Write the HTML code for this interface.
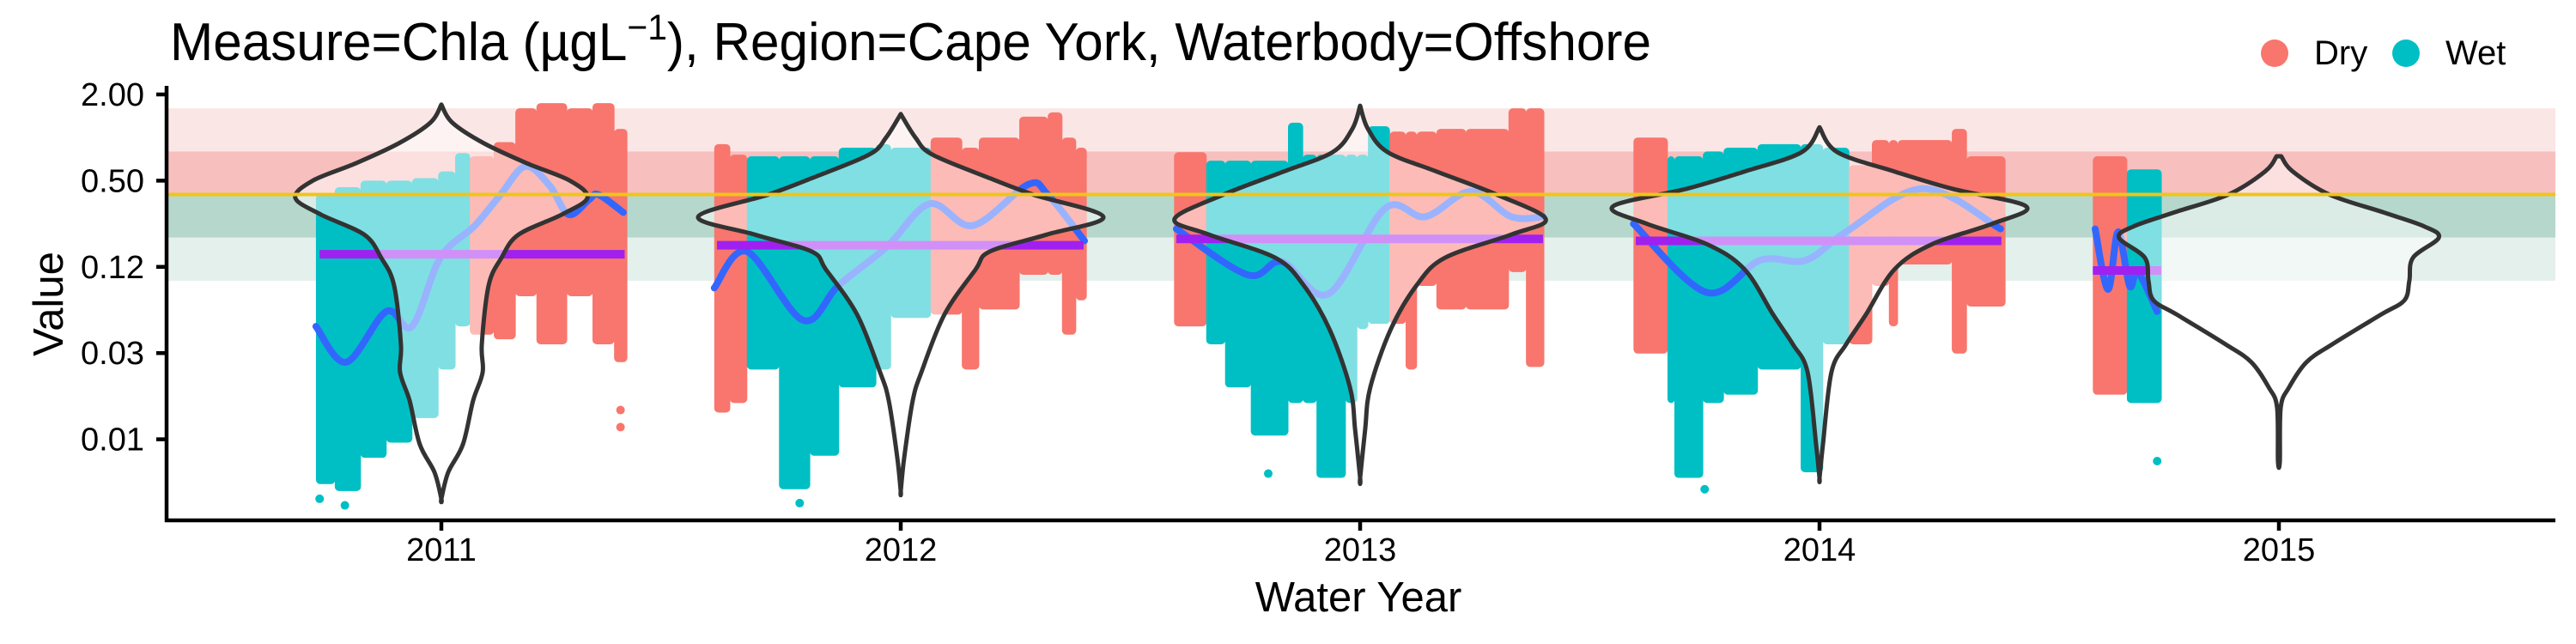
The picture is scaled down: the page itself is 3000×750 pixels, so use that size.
<!DOCTYPE html>
<html><head><meta charset="utf-8"><title>Chla Cape York Offshore</title>
<style>html,body{margin:0;padding:0;background:#fff;}svg{display:block;font-family:"Liberation Sans",sans-serif;}</style>
</head><body>
<svg id="chart" xmlns="http://www.w3.org/2000/svg" width="3000" height="750" viewBox="0 0 3000 750">
<text x="198" y="70" font-size="62" fill="#000" textLength="1725" lengthAdjust="spacingAndGlyphs">Measure=Chla (µgL<tspan font-size="42" dy="-24">−1</tspan><tspan dy="24">), Region=Cape York, Waterbody=Offshore</tspan></text>
<g>
<circle cx="2649" cy="62" r="16" fill="#F8766D"/>
<text x="2695" y="75" font-size="40">Dry</text>
<circle cx="2802" cy="62" r="16" fill="#00BFC4"/>
<text x="2848" y="75" font-size="40">Wet</text>
</g>
<text transform="translate(73,354) rotate(-90)" text-anchor="middle" font-size="49">Value</text>
<text x="1582" y="712" text-anchor="middle" font-size="49">Water Year</text>
<g id="plot"></g>
</svg>
<script>
const NS = "http://www.w3.org/2000/svg";
// ---- data ----
const years = [2011, 2012, 2013, 2014, 2015];
const yTickValues = [2, 0.5, 0.125, 0.03125, 0.0078125];
const yTickLabels = ["2.00", "0.50", "0.12", "0.03", "0.01"];
const bandLow = [0.8, 0.4, 0.2, 0.1];
const bandHigh = [1.6, 0.8, 0.4, 0.2];
const bandColors = ["#fbe6e6", "#f8bfbf", "#b6d8cc", "#e4f0eb"];
const guidelineValue = 0.4;
// point cloud segments: [year, startFrac, endFrac, high, low, season]
const cloudSegments = [
 [2011,-0.273,-0.232,0.40,0.0038,"Wet"],[2011,-0.232,-0.176,0.45,0.0034,"Wet"],[2011,-0.176,-0.12,0.5,0.0058,"Wet"],
 [2011,-0.12,-0.064,0.5,0.0074,"Wet"],[2011,-0.064,-0.007,0.52,0.011,"Wet"],[2011,-0.007,0.03,0.58,0.024,"Wet"],[2011,0.03,0.062,0.78,0.048,"Wet"],
 [2011,0.062,0.114,0.74,0.042,"Dry"],[2011,0.114,0.161,0.93,0.039,"Dry"],[2011,0.161,0.207,1.6,0.078,"Dry"],[2011,0.207,0.273,1.74,0.036,"Dry"],
 [2011,0.273,0.329,1.6,0.078,"Dry"],[2011,0.329,0.376,1.74,0.036,"Dry"],[2011,0.376,0.404,1.15,0.027,"Dry"],
 [2012,-0.406,-0.372,0.9,0.012,"Dry"],[2012,-0.372,-0.335,0.76,0.014,"Dry"],
 [2012,-0.335,-0.265,0.74,0.024,"Wet"],[2012,-0.265,-0.198,0.74,0.0035,"Wet"],[2012,-0.198,-0.135,0.74,0.006,"Wet"],
 [2012,-0.135,-0.054,0.85,0.018,"Wet"],[2012,-0.054,-0.022,0.9,0.024,"Wet"],[2012,-0.022,0.065,0.85,0.055,"Wet"],
 [2012,0.065,0.133,1.0,0.058,"Dry"],[2012,0.133,0.17,0.85,0.024,"Dry"],[2012,0.17,0.258,1.0,0.063,"Dry"],[2012,0.258,0.32,1.4,0.11,"Dry"],
 [2012,0.32,0.351,1.5,0.11,"Dry"],[2012,0.351,0.381,1.0,0.042,"Dry"],[2012,0.381,0.404,0.85,0.073,"Dry"],
 [2013,-0.405,-0.335,0.79,0.048,"Dry"],
 [2013,-0.335,-0.294,0.69,0.036,"Wet"],[2013,-0.294,-0.238,0.69,0.018,"Wet"],[2013,-0.238,-0.157,0.69,0.0083,"Wet"],
 [2013,-0.157,-0.125,1.27,0.014,"Wet"],[2013,-0.125,-0.095,0.76,0.014,"Wet"],[2013,-0.095,-0.032,0.76,0.0042,"Wet"],
 [2013,-0.032,-0.007,0.76,0.014,"Wet"],[2013,-0.007,0.017,0.76,0.046,"Wet"],[2013,0.017,0.064,1.2,0.05,"Wet"],
 [2013,0.064,0.099,1.1,0.05,"Dry"],[2013,0.099,0.123,1.1,0.024,"Dry"],[2013,0.123,0.166,1.1,0.092,"Dry"],
 [2013,0.166,0.23,1.15,0.063,"Dry"],[2013,0.23,0.323,1.15,0.063,"Dry"],[2013,0.323,0.361,1.6,0.115,"Dry"],[2013,0.361,0.4,1.6,0.025,"Dry"],
 [2014,-0.405,-0.331,1.0,0.031,"Dry"],
 [2014,-0.331,-0.316,0.74,0.014,"Wet"],[2014,-0.316,-0.254,0.74,0.0042,"Wet"],[2014,-0.254,-0.209,0.8,0.014,"Wet"],
 [2014,-0.209,-0.135,0.85,0.016,"Wet"],[2014,-0.135,-0.041,0.9,0.024,"Wet"],[2014,-0.041,0.007,0.9,0.0046,"Wet"],[2014,0.007,0.064,0.85,0.036,"Wet"],
 [2014,0.064,0.114,0.64,0.036,"Dry"],[2014,0.114,0.151,0.96,0.092,"Dry"],[2014,0.151,0.17,0.96,0.048,"Dry"],
 [2014,0.17,0.288,0.96,0.13,"Dry"],[2014,0.288,0.32,1.15,0.031,"Dry"],[2014,0.32,0.404,0.74,0.066,"Dry"],
 [2015,-0.405,-0.331,0.74,0.016,"Dry"],[2015,-0.331,-0.256,0.6,0.014,"Wet"]
];
// isolated points: [year, frac, value, season]
const outlierPoints = [
 [2011,0.39,0.0095,"Dry"],[2011,0.39,0.0125,"Dry"],[2011,-0.21,0.0027,"Wet"],[2011,-0.265,0.003,"Wet"],
 [2012,-0.22,0.0028,"Wet"],[2013,-0.2,0.0045,"Wet"],[2014,-0.25,0.0035,"Wet"],[2015,-0.265,0.0055,"Wet"],[2011,0.122,0.075,"Dry"]
];
// smooth trend lines: x fractions and values per year
const trendYears = [2011, 2012, 2013, 2014, 2015];
const trendFracs = [
 [-0.273,-0.207,-0.12,-0.064,-0.002,0.073,0.129,0.183,0.236,0.277,0.322,0.342,0.396],
 [-0.406,-0.335,-0.213,-0.135,-0.03,0.063,0.157,0.277,0.32,0.4],
 [-0.4,-0.245,-0.17,-0.069,0.054,0.142,0.241,0.329,0.398],
 [-0.405,-0.246,-0.129,-0.03,0.058,0.226,0.394],
 [-0.4,-0.372,-0.35,-0.325,-0.307,-0.265]
];
const trendValues = [
 [0.048,0.027,0.061,0.048,0.145,0.243,0.4,0.63,0.46,0.29,0.37,0.4,0.30],
 [0.089,0.16,0.053,0.093,0.173,0.345,0.243,0.47,0.40,0.19],
 [0.23,0.11,0.136,0.081,0.32,0.28,0.42,0.28,0.28],
 [0.25,0.083,0.139,0.139,0.22,0.44,0.23],
 [0.23,0.087,0.22,0.092,0.115,0.061]
];
// medians: [year, startFrac, endFrac, value]
const medianLines = [
 [2011,-0.265,0.399,0.153],[2012,-0.4,0.398,0.177],[2013,-0.4,0.398,0.196],[2014,-0.4,0.396,0.19],[2015,-0.405,-0.256,0.118]
];
// violins: values (top to bottom) and half-widths (year units)
const violinValues = [
 [1.7,1.27,0.91,0.66,0.5,0.38,0.29,0.21,0.145,0.093,0.036,0.023,0.0145,0.0072,0.0046,0.003],
 [1.46,1.0,0.76,0.52,0.4,0.28,0.21,0.16,0.12,0.058,0.023,0.0145,0.0058,0.0034],
 [1.67,1.15,0.79,0.58,0.40,0.27,0.21,0.145,0.093,0.046,0.018,0.0092,0.0042],
 [1.18,0.79,0.58,0.44,0.33,0.25,0.18,0.12,0.058,0.036,0.023,0.0072,0.0042],
 [0.74,0.58,0.4,0.3,0.24,0.2,0.145,0.10,0.073,0.058,0.036,0.027,0.018,0.013,0.0055]
];
const violinWidths = [
 [0,0.024,0.093,0.187,0.28,0.318,0.262,0.168,0.131,0.103,0.088,0.09,0.069,0.047,0.015,0],
 [0,0.032,0.069,0.194,0.288,0.441,0.318,0.194,0.163,0.095,0.045,0.026,0.0075,0],
 [0,0.017,0.06,0.166,0.297,0.404,0.329,0.185,0.123,0.067,0.022,0.011,0],
 [0,0.039,0.163,0.288,0.45,0.376,0.245,0.163,0.101,0.058,0.026,0.0075,0],
 [0.005,0.03,0.11,0.228,0.316,0.348,0.292,0.284,0.273,0.222,0.116,0.06,0.022,0.004,0.002]
];
// ---- scales ----
const X0 = 194, X1 = 2976, Y0 = 100, YAX = 606;
function xScale(yr){ return 514 + (yr - 2011) * 535; }
function yScale(v){ return 110 + (1 - Math.log2(v)) * 50.2; }
const seasonColor = {Dry:"#F8766D", Wet:"#00BFC4"};
const plot = document.getElementById("plot");
function mk(tag, attrs, parent){ const e = document.createElementNS(NS, tag); for (const k in attrs) e.setAttribute(k, attrs[k]); (parent||plot).appendChild(e); return e; }
function smoothPath(pts){
  let d = "M" + pts[0][0].toFixed(1) + "," + pts[0][1].toFixed(1);
  for (let k = 1; k < pts.length; k++) {
    const p0 = pts[k-1], p1 = pts[k];
    const pm = pts[k-2] || p0, pn = pts[k+1] || p1;
    const c1 = [p0[0] + (p1[0]-pm[0])/6, p0[1] + (p1[1]-pm[1])/6];
    const c2 = [p1[0] - (pn[0]-p0[0])/6, p1[1] - (pn[1]-p0[1])/6];
    d += " C" + c1[0].toFixed(1)+","+c1[1].toFixed(1)+" "+c2[0].toFixed(1)+","+c2[1].toFixed(1)+" "+p1[0].toFixed(1)+","+p1[1].toFixed(1);
  }
  return d;
}
// bands
const gb = mk("g", {});


bandLow.forEach((lo, i) => {
  const r = mk("rect", {x:X0, y:yScale(bandHigh[i]), width:X1-X0, height:yScale(lo)-yScale(bandHigh[i]), fill:bandColors[i]}, gb);
  
  
});
// points
const gp = mk("g", {});


cloudSegments.forEach(s => {
  const x1 = xScale(s[0] + s[1]), x2 = xScale(s[0] + s[2]);
  const r = mk("rect", {x:x1, y:yScale(s[3]), width:x2-x1+0.5, height:yScale(s[4])-yScale(s[3]), rx:5, fill:seasonColor[s[5]]}, gp);
  
  
});
outlierPoints.forEach(p => {
  const c = mk("circle", {cx:xScale(p[0]+p[1]), cy:yScale(p[2]), r:5, fill:seasonColor[p[3]]}, gp);
  
  
});
// trends
trendYears.forEach((yr, i) => {
  const pts = trendFracs[i].map((f, j) => [xScale(yr + f), yScale(trendValues[i][j])]);
  const p = mk("path", {d:smoothPath(pts), fill:"none", stroke:"#3366ff", "stroke-width":8, "stroke-linejoin":"round", "stroke-linecap":"round"});
  
  
});
// medians
medianLines.forEach(m => {
  const l = mk("line", {x1:xScale(m[0]+m[1]), x2:xScale(m[0]+m[2]), y1:yScale(m[3]), y2:yScale(m[3]), stroke:"#a020f0", "stroke-width":10});
  
  
});
// violins
years.forEach((yr, i) => {
  const vals = violinValues[i], ws = violinWidths[i], cx = xScale(yr);
  const right = vals.map((v, j) => [cx + ws[j]*535, yScale(v)]);
  const left = vals.map((v, j) => [cx - ws[j]*535, yScale(v)]).reverse();
  const d = smoothPath(right.concat(left)) + " Z";
  const p = mk("path", {d:d, fill:"#ffffff", "fill-opacity":0.5, stroke:"#333333", "stroke-width":5, "stroke-linejoin":"round"});
  
  
});
// guideline
const gl = mk("line", {x1:X0, x2:X1, y1:yScale(guidelineValue), y2:yScale(guidelineValue), stroke:"#f0c419", "stroke-width":4});


// axes
const ya = mk("line", {x1:194, x2:194, y1:Y0, y2:YAX+2, stroke:"#000", "stroke-width":4.5});


const xa = mk("line", {x1:192, x2:X1, y1:YAX, y2:YAX, stroke:"#000", "stroke-width":4.5});


yTickValues.forEach((v, i) => {
  const y = yScale(v);
  const t = mk("line", {x1:182, x2:194, y1:y, y2:y, stroke:"#000", "stroke-width":4.5});
  
  
  const tx = mk("text", {x:168, y:y+13, "text-anchor":"end", "font-size":38});
  tx.textContent = yTickLabels[i];
  
  
});
years.forEach(yr => {
  const x = xScale(yr);
  const t = mk("line", {x1:x, x2:x, y1:YAX, y2:618, stroke:"#000", "stroke-width":4.5});
  
  
  const tx = mk("text", {x:x, y:653, "text-anchor":"middle", "font-size":38});
  tx.textContent = String(yr);
  
  
});
</script>
</body></html>
